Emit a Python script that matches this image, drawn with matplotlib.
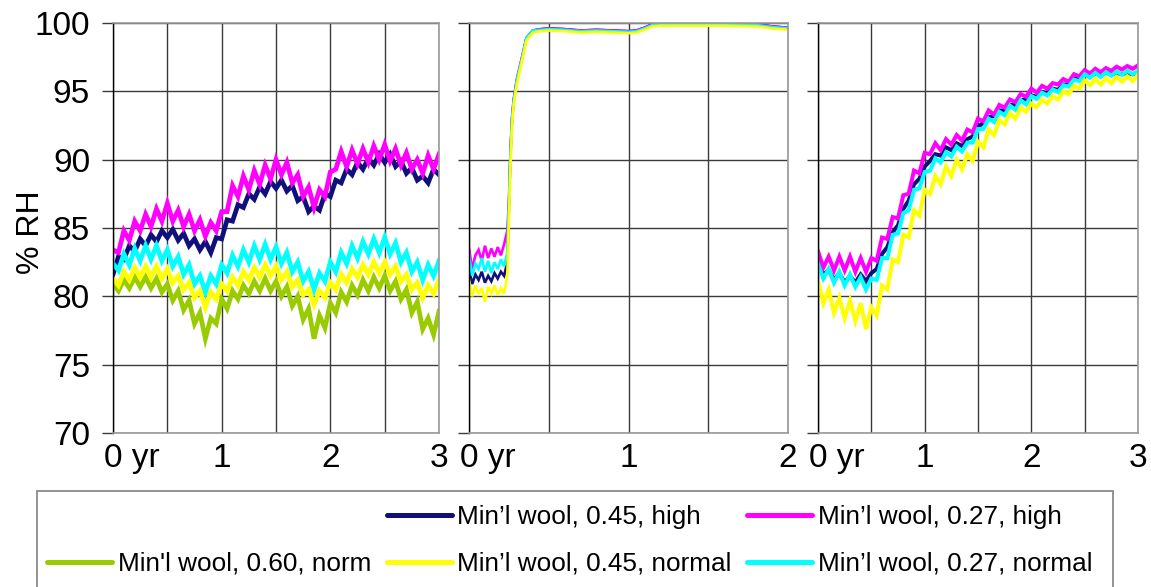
import numpy as np
import matplotlib
matplotlib.use("Agg")
import matplotlib.pyplot as plt
from matplotlib.lines import Line2D
from matplotlib.patches import Rectangle
from matplotlib.transforms import ScaledTranslation

plt.rcParams['font.family'] = ['Liberation Sans', 'DejaVu Sans']

# ---- series labels and colours ----
labels = {
    'navy': "Min\u2019l wool, 0.45, high",
    'magenta': "Min\u2019l wool, 0.27, high",
    'green': "Min'l wool, 0.60, norm",
    'yellow': "Min\u2019l wool, 0.45, normal",
    'cyan': "Min\u2019l wool, 0.27, normal",
}
colors = {
    'navy': '#10107a',
    'magenta': '#ff00ff',
    'green': '#99cc00',
    'yellow': '#ffff00',
    'cyan': '#00ffff',
}

# ---- panel 1: 0-3 years, sampled every 0.05 yr ----
t1 = np.linspace(0, 3, 61)
p1_magenta = [83.4, 83.2, 84.8, 84.1, 85.5, 84.8, 86.0, 85.1, 86.4, 85.5,
              86.8, 85.5, 86.3, 85.1, 86.0, 84.8, 85.6, 84.4, 85.4, 84.8,
              86.2, 86.2, 88.1, 87.3, 88.8, 87.8, 89.2, 88.2, 89.6, 88.6,
              90.0, 88.9, 89.8, 88.3, 88.9, 87.3, 88.0, 86.5, 87.8, 87.3,
              89.1, 89.3, 90.6, 89.5, 90.7, 89.7, 90.8, 89.8, 91.0, 90.0,
              91.1, 89.9, 90.8, 89.6, 90.5, 89.3, 90.0, 89.0, 90.3, 89.3, 90.4]
p1_navy = [81.6, 82.9, 82.7, 83.7, 83.3, 84.2, 83.7, 84.5, 84.0, 84.8,
           84.3, 84.9, 84.1, 84.6, 83.7, 84.2, 83.4, 84.0, 83.2, 84.3,
           84.2, 85.6, 85.5, 86.7, 86.5, 87.5, 87.1, 88.0, 87.5, 88.4,
           87.9, 88.5, 87.7, 88.1, 87.0, 87.3, 86.2, 86.6, 86.3, 87.5,
           87.3, 88.5, 88.3, 89.3, 88.9, 89.8, 89.3, 90.1, 89.6, 90.4,
           89.8, 90.4, 89.5, 89.9, 89.0, 89.4, 88.5, 88.8, 88.3, 89.3, 88.9]
p1_cyan = [82.4, 81.9, 83.1, 82.3, 83.5, 82.6, 83.7, 82.7, 83.7, 82.6,
           83.4, 82.2, 82.9, 81.6, 82.3, 80.9, 81.5, 80.3, 81.5, 80.9,
           82.3, 81.7, 83.0, 82.2, 83.4, 82.5, 83.7, 82.7, 83.8, 82.7,
           83.6, 82.4, 83.2, 81.8, 82.5, 81.1, 81.8, 80.5, 81.7, 81.1,
           82.5, 81.8, 83.2, 82.4, 83.7, 82.8, 84.0, 83.1, 84.2, 83.2,
           84.3, 83.1, 83.9, 82.5, 83.2, 81.8, 82.5, 81.2, 82.3, 81.5, 82.6]
p1_yellow = [81.3, 80.8, 81.8, 81.2, 82.1, 81.4, 82.2, 81.4, 82.2, 81.3,
             82.0, 81.0, 81.5, 80.5, 81.0, 79.9, 80.4, 79.2, 80.3, 79.8,
             80.9, 80.4, 81.4, 80.8, 81.8, 81.2, 82.1, 81.4, 82.3, 81.5,
             82.2, 81.2, 81.8, 80.7, 81.2, 80.1, 80.5, 79.4, 80.4, 79.9,
             81.0, 80.5, 81.6, 81.0, 82.0, 81.4, 82.3, 81.6, 82.5, 81.7,
             82.5, 81.6, 82.2, 81.1, 81.6, 80.5, 81.0, 79.9, 80.8, 80.2, 81.2]
p1_green = [80.9, 80.4, 81.2, 80.6, 81.4, 80.7, 81.4, 80.6, 81.3, 80.3,
            80.9, 79.7, 80.4, 79.0, 79.7, 78.0, 78.8, 76.9, 78.4, 78.0,
            79.8, 79.1, 80.4, 79.8, 80.8, 80.2, 81.1, 80.4, 81.3, 80.4,
            81.1, 80.0, 80.7, 79.3, 80.0, 78.3, 79.1, 76.9, 78.6, 77.7,
            79.5, 78.8, 80.3, 79.6, 80.8, 80.1, 81.2, 80.4, 81.4, 80.6,
            81.5, 80.4, 81.1, 79.8, 80.5, 78.8, 79.6, 77.6, 78.4, 77.2, 78.9]

# ---- panel 2: 0-2 years ----
t2 = [0.00, 0.02, 0.04, 0.06, 0.08, 0.10, 0.12, 0.14, 0.16, 0.18, 0.20, 0.22,
      0.24, 0.25, 0.26, 0.27, 0.28, 0.30, 0.33, 0.36, 0.40, 0.45, 0.50, 0.60,
      0.70, 0.80, 0.90, 1.00, 1.05, 1.10, 1.15, 1.20, 1.40, 1.60, 1.80, 1.90,
      2.00]
p2_magenta = [83.5, 82.0, 83.0, 83.4, 82.6, 83.7, 82.8, 83.5, 82.9, 83.6, 83.0, 83.8,
              84.8, 86.8, 90.6, 93.1, 94.4, 95.9, 97.4, 98.9, 99.45, 99.55, 99.6, 99.55,
              99.45, 99.5, 99.45, 99.4, 99.45, 99.65, 99.9, 99.95, 99.95, 99.95, 99.9, 99.75,
              99.65]
p2_navy = [82.0, 80.9, 81.6, 81.2, 81.8, 81.0, 81.5, 81.1, 81.7, 81.3, 81.8, 81.5,
           82.5, 86.5, 90.4, 93.0, 94.3, 95.8, 97.3, 98.9, 99.45, 99.55, 99.6, 99.55,
           99.45, 99.5, 99.45, 99.4, 99.45, 99.65, 99.9, 99.95, 99.95, 99.95, 99.9, 99.75,
           99.65]
p2_cyan = [83.0, 81.5, 82.4, 82.0, 82.8, 81.8, 82.6, 81.7, 82.5, 82.0, 82.7, 82.2,
           83.2, 86.6, 90.5, 93.0, 94.3, 95.8, 97.3, 98.9, 99.45, 99.5, 99.55, 99.5,
           99.4, 99.45, 99.4, 99.35, 99.4, 99.6, 99.85, 99.9, 99.9, 99.9, 99.85, 99.7,
           99.6]
p2_yellow = [81.2, 80.0, 80.8, 80.2, 80.6, 79.6, 80.7, 80.2, 80.8, 80.1, 80.6, 80.2,
             81.5, 85.5, 89.5, 92.5, 94.0, 95.5, 97.1, 98.7, 99.3, 99.4, 99.45, 99.4,
             99.3, 99.35, 99.3, 99.25, 99.3, 99.5, 99.75, 99.8, 99.8, 99.8, 99.75, 99.6,
             99.5]

# ---- panel 3: 0-3 years, sampled every 0.05 yr ----
t3 = np.linspace(0, 3, 61)
p3_magenta = [83.3, 82.1, 82.9, 81.9, 82.9, 81.9, 82.9, 81.8, 82.8, 81.8,
              82.8, 82.6, 84.3, 84.2, 85.8, 85.7, 87.4, 87.5, 89.2, 89.0,
              90.5, 90.4, 91.2, 90.7, 91.5, 91.1, 91.8, 91.4, 92.2, 92.0,
              93.0, 92.8, 93.6, 93.3, 94.0, 93.8, 94.4, 94.2, 94.8, 94.6,
              95.2, 94.9, 95.4, 95.2, 95.6, 95.5, 95.9, 95.7, 96.25, 96.1,
              96.55, 96.3, 96.65, 96.4, 96.7, 96.5, 96.8, 96.6, 96.85, 96.65, 96.9]
p3_navy = [82.4, 81.6, 81.9, 81.2, 81.7, 81.0, 81.5, 81.0, 81.6, 81.1,
           81.7, 82.0, 83.1, 83.6, 84.7, 85.2, 86.4, 87.0, 88.2, 88.6,
           89.5, 89.9, 90.4, 90.3, 90.9, 90.7, 91.2, 91.0, 91.5, 91.7,
           92.4, 92.7, 93.1, 93.2, 93.6, 93.6, 94.0, 94.0, 94.35, 94.4,
           94.7, 94.6, 94.95, 94.9, 95.2, 95.1, 95.5, 95.5, 95.9, 95.9,
           96.3, 96.1, 96.3, 96.2, 96.35, 96.25, 96.35, 96.25, 96.35, 96.25, 96.35]
p3_cyan = [82.4, 81.3, 82.0, 81.0, 81.8, 80.8, 81.6, 80.7, 81.4, 80.5,
           81.3, 81.2, 82.8, 82.8, 84.5, 84.6, 86.1, 86.3, 87.8, 87.9,
           89.1, 89.2, 90.1, 89.8, 90.55, 90.25, 90.95, 90.6, 91.25, 91.25,
           92.25, 92.25, 93.0, 92.75, 93.5, 93.25, 93.95, 93.65, 94.35, 94.05,
           94.65, 94.45, 94.9, 94.7, 95.15, 94.95, 95.45, 95.35, 95.85, 95.75,
           96.25, 96.0, 96.35, 96.05, 96.4, 96.15, 96.45, 96.2, 96.5, 96.25, 96.5]
p3_yellow = [81.2, 79.5, 80.5, 78.8, 79.9, 78.4, 79.7, 78.2, 79.5, 77.6,
             79.2, 78.6, 80.8, 80.5, 82.7, 82.5, 84.5, 84.3, 86.3, 85.9,
             87.8, 87.5, 88.8, 88.2, 89.5, 88.8, 90.0, 89.3, 90.4, 89.9,
             91.3, 90.9, 92.2, 91.8, 92.9, 92.6, 93.4, 93.0, 93.8, 93.5,
             94.1, 93.85, 94.4, 94.1, 94.65, 94.4, 95.0, 94.8, 95.4, 95.2,
             95.8, 95.45, 95.9, 95.5, 95.95, 95.6, 96.05, 95.7, 96.1, 95.75, 96.2]

panels = [
    dict(t=t1, xmax=3, lw=3.4, series=[('navy', p1_navy), ('magenta', p1_magenta),
                                       ('cyan', p1_cyan), ('green', p1_green),
                                       ('yellow', p1_yellow)]),
    dict(t=t2, xmax=2, lw=1.9, series=[('navy', p2_navy), ('magenta', p2_magenta),
                                       ('cyan', p2_cyan), ('yellow', p2_yellow)]),
    dict(t=t3, xmax=3, lw=2.9, series=[('navy', p3_navy), ('magenta', p3_magenta),
                                       ('cyan', p3_cyan), ('yellow', p3_yellow)]),
]

yticks = [70, 75, 80, 85, 90, 95, 100]

W, H = 1151, 587
fig = plt.figure(figsize=(W / 100, H / 100), dpi=100)

# axes rectangles in pixels: left, right, top, bottom
boxes = [(113, 439, 23, 433), (469, 788, 23, 433), (818, 1138, 23, 433)]

for i, (panel, (l, r, t, b)) in enumerate(zip(panels, boxes)):
    ax = fig.add_axes([l / W, 1 - b / H, (r - l) / W, (b - t) / H])
    for key, vals in panel['series']:
        ax.plot(panel['t'], vals, color=colors[key], lw=panel['lw'],
                solid_joinstyle='miter')
    ax.set_xlim(0, panel['xmax'])
    ax.set_ylim(70, 100)
    ax.set_yticks(yticks)
    ax.set_xticks(np.arange(0, panel['xmax'] + 0.01, 0.5))
    xt = []
    for v in np.arange(0, panel['xmax'] + 0.01, 0.5):
        if v == 0:
            xt.append('0 yr')
        elif float(v).is_integer():
            xt.append(str(int(v)))
        else:
            xt.append('')
    ax.set_xticklabels(xt)
    ax.grid(True, color='#3a3a3a', lw=1.0)
    ax.set_axisbelow(True)
    ax.tick_params(axis='x', length=0, pad=7, labelsize=24)
    ax.tick_params(axis='y', direction='out', length=8, width=1, color='#3a3a3a',
                   pad=8.5, labelsize=24)
    for side in ['right', 'bottom', 'top']:
        ax.spines[side].set_color('#9a9a9a')
        ax.spines[side].set_linewidth(1.2)
    ax.spines['left'].set_color('#000000')
    ax.spines['left'].set_linewidth(1.0)
    if i == 0:
        ax.set_ylabel('% RH', fontsize=23)
        ax.yaxis.set_label_coords(-0.206, 0.49)
    else:
        ax.set_yticklabels([])
    # the "0 yr" label starts at the zero tick
    fig.canvas.draw()
    lab0 = ax.get_xticklabels()[0]
    lab0.set_horizontalalignment('left')
    lab0.set_transform(lab0.get_transform() + ScaledTranslation(-9 / 100, 0, fig.dpi_scale_trans))

# legend box
fig.patches.append(Rectangle((37 / W, -0.05), (1113 - 37) / W, (587 - 491) / H + 0.05,
                             transform=fig.transFigure, fill=False,
                             edgecolor='#8a8a8a', lw=1.3))

order = [None, 'green', 'navy', 'yellow', 'magenta', 'cyan']
handles, texts = [], []
for key in order:
    if key is None:
        handles.append(Line2D([], [], color='none'))
        texts.append('')
    else:
        handles.append(Line2D([], [], color=colors[key], lw=3.6, solid_capstyle='round'))
        texts.append(labels[key])
fig.legend(handles, texts, ncol=3, loc='upper left',
           bbox_to_anchor=(47 / W, 1 - 505 / H), frameon=False,
           fontsize=18.8, handlelength=2.5, handletextpad=0.2,
           columnspacing=0.6, labelspacing=0.88, borderpad=0, borderaxespad=0)

fig.savefig('out.png', dpi=100)
